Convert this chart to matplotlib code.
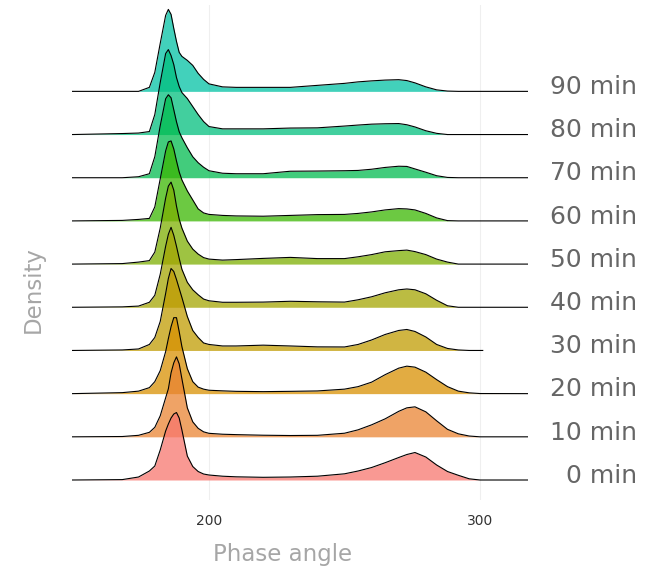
import numpy as np
import matplotlib
matplotlib.use("Agg")
import matplotlib.pyplot as plt
import matplotlib.transforms as mtransforms

# ------------------------------------------------------------
# data (relative density, per ridge)
# ------------------------------------------------------------
phase = [149.5, 168, 174, 178, 180, 182, 184, 185, 186, 187, 188, 189, 190,
         192, 194, 196, 198, 200, 205, 210, 220, 230, 240, 250, 255, 260,
         265, 270, 273, 276, 280, 284, 288, 292, 296, 300, 317.7]

labels = ["0 min", "10 min", "20 min", "30 min", "40 min",
          "50 min", "60 min", "70 min", "80 min", "90 min"]

dens_0 = [0, 0.4, 3, 9, 14, 30, 49, 56, 62, 66, 67.5, 62, 50, 24, 13.5, 8.5,
          6, 5, 3.8, 3.2, 2.7, 3, 3.8, 6.2, 9, 12.5, 17.3, 22.5, 25.5, 27.5,
          23, 15, 8.5, 4.7, 1.2, 0, 0]
dens_10 = [0, 0.3, 1.5, 4.5, 9.5, 21, 39, 48, 64, 74, 80, 73, 58, 29, 15,
           8.5, 5, 3.5, 2.6, 2.2, 1.6, 1.3, 1.5, 3.6, 7, 12, 18, 25.5, 29, 30,
           25, 16, 7.5, 3, 0.8, 0, 0]
dens_20 = [0, 1, 2.5, 6, 12, 23, 42, 55, 67, 76, 76, 62, 47, 25, 12, 6.5,
           4.5, 3.4, 2.8, 2.3, 2, 2.3, 2.7, 4.5, 7, 11.5, 19, 25.5, 27.5, 26.5,
           21.5, 14, 7, 2.5, 0.8, 0.1, 0]
dens_30 = [0, 0.5, 1.5, 6, 13, 29, 57, 72, 82, 79, 71, 62, 53, 34, 20, 13,
           7.5, 6, 4.5, 4.5, 5.3, 4.5, 3.6, 3.5, 6, 10.5, 16, 20, 21, 19, 13.5,
           6, 2, 0.5, 0, 0, 0]
dens_40 = [0, 0.4, 1.2, 5, 12, 33, 61, 73, 80, 72, 61, 49, 38, 25, 17.5,
           12.5, 8.2, 6.5, 5, 5, 5.2, 6, 5.5, 5.2, 7.5, 10.5, 14.5, 17.5, 18.3,
           17.5, 13.5, 7, 1.5, 0, 0, 0, 0]
dens_50 = [0, 0.5, 2, 3.5, 12, 36, 66, 78, 82, 74, 58, 45, 36, 23, 15, 10,
           6.5, 5, 4, 4.5, 5.7, 6.7, 5.5, 5.5, 7.3, 9.5, 12.3, 13.5, 14, 12.5,
           9.5, 5, 2, 0, 0, 0, 0]
dens_60 = [0, 0.5, 1.5, 2.5, 14, 42, 70, 79, 80, 72, 60, 49, 41, 30, 21, 12,
           8, 6.5, 5.5, 5, 4.7, 5.5, 6.3, 6.5, 7.5, 9, 11, 12.3, 12, 11, 7.5,
           3, 0.3, 0, 0, 0, 0]
dens_70 = [0, 0, 1, 4, 21, 52, 79, 83, 80, 68, 56, 46, 40, 30, 21, 15, 10.5,
           7, 4.5, 4, 4, 6.5, 6.7, 7, 7.3, 8.5, 10.3, 11.5, 11.3, 8.8, 5.5, 2,
           0.3, 0, 0, 0, 0]
dens_80 = [0, 1, 1.5, 3, 20, 52, 81, 85, 79, 70, 57, 48, 42, 36, 28, 20, 13,
           8, 5.7, 5.7, 5.7, 6.5, 6.7, 8.5, 9.5, 10.4, 10.8, 11, 9.8, 7.6, 3.8,
           1.2, 0, 0, 0, 0, 0]
dens_90 = [0, 0, 0, 4, 19, 48, 76, 82, 77, 63, 50, 39, 35, 31, 26, 18, 12,
           7.5, 4.5, 4, 4, 4, 6, 8, 9.5, 10.5, 11.3, 11.7, 10.8, 8.5, 4.5, 1.5,
           0.3, 0, 0, 0, 0]

# where each ridge's density stops on the right
phase_end = [317.7, 317.7, 317.7, 301, 317.7, 317.7, 317.7, 317.7, 317.7, 317.7]

all_dens = [dens_0, dens_10, dens_20, dens_30, dens_40,
            dens_50, dens_60, dens_70, dens_80, dens_90]

# ggplot hue palette (first 10 of 20)
colors = ["#F8766D", "#EA8331", "#D89000", "#C09B00", "#A3A500",
          "#7CAE00", "#39B600", "#00BB4E", "#00BF7D", "#00C1A3"]

# ------------------------------------------------------------
# figure
# ------------------------------------------------------------
W, H = 653, 571
fig = plt.figure(figsize=(W / 100, H / 100), dpi=100)
ax = fig.add_axes([72 / W, (H - 500) / H, (528 - 72) / W, 495 / H])

scale = 1 / 43.2   # ridge spacing in the same units as the densities
x = np.array(phase)

# top ridge first, so lower ridges sit on top
for i in range(len(labels) - 1, -1, -1):
    d = np.array(all_dens[i]) * scale
    keep = x <= phase_end[i]
    xs = np.append(x[keep], phase_end[i])
    ys = np.append(d[keep], np.interp(phase_end[i], x, d))
    z = 10 - i
    ax.fill_between(xs, i, i + ys, color=colors[i], alpha=0.74,
                    linewidth=0, zorder=2 * z)
    ax.plot(xs, i + ys, color="black", lw=0.8, zorder=2 * z + 1)

ax.set_xlim(149.45, 317.7)
ax.set_ylim(-0.463, 11.0)

ax.set_xticks([200, 300])
ax.set_yticks([])
ax.grid(axis="x", color="#EFEFEF", lw=0.8, zorder=0)
ax.set_axisbelow(True)
for s in ax.spines.values():
    s.set_visible(False)
ax.tick_params(axis="x", length=0, pad=10, labelsize=10, labelcolor="#333333")

trans = mtransforms.blended_transform_factory(ax.transAxes, ax.transData)
for i, lab in enumerate(labels):
    ax.text((637 - 72) / (528 - 72), i + 0.1, lab, transform=trans,
            ha="right", va="center", fontsize=18, color="#666666")

fig.text(282.5 / W, 1 - 555 / H, "Phase angle", ha="center", va="center",
         fontsize=16.5, color="#a6a6a6")
fig.text(33 / W, 1 - 290 / H, "Density", ha="center", va="center",
         rotation=90, fontsize=16.5, color="#a6a6a6")

plt.savefig("out.png", dpi=100)
